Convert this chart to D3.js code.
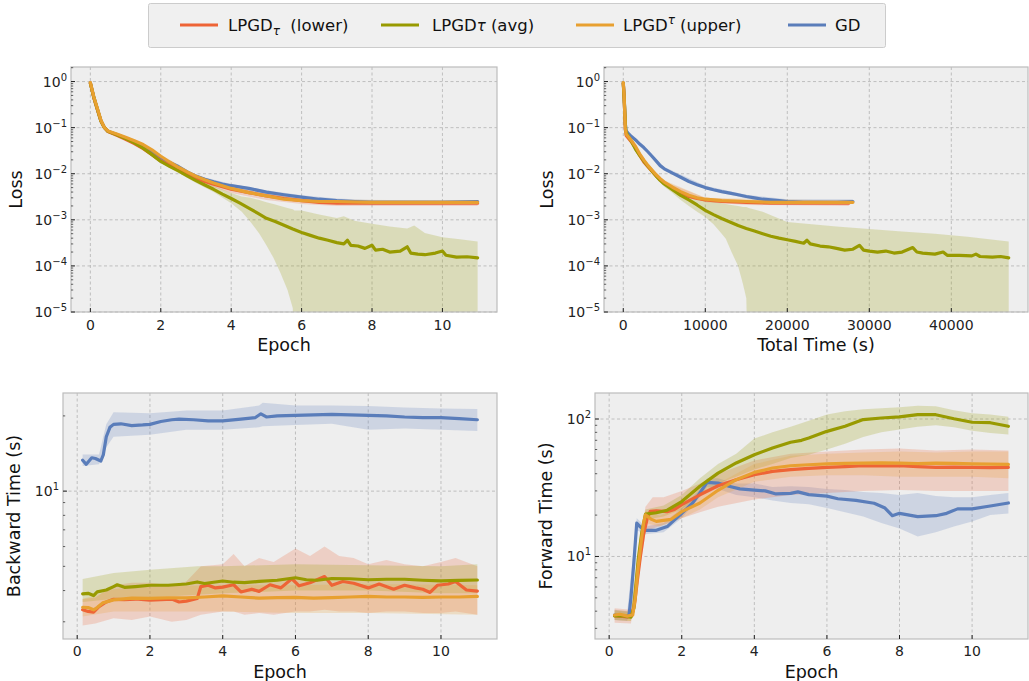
<!DOCTYPE html>
<html><head><meta charset="utf-8">
<script src="https://cdn.jsdelivr.net/npm/d3@7"></script>
<style>body{margin:0;background:#fff}svg{display:block;font-family:"DejaVu Sans",sans-serif}</style>
</head><body><script>
// ---------- DATA ----------
const xTicksEpoch = [0, 2, 4, 6, 8, 10];
const xTicksTime = [0, 10000, 20000, 30000, 40000];
const seriesNames = ["lower", "avg", "upper", "GD"];

// Loss vs epoch [epoch, loss] ; bands [epoch, low, high]
const lossEpRed = [[0,0.93],[0.1,0.44],[0.2,0.245],[0.3,0.14],[0.4,0.1],[0.5,0.082],[0.75,0.068],[1,0.056],[1.25,0.045],[1.5,0.035],[1.75,0.026],[2,0.019],[2.25,0.0155],[2.5,0.0125],[2.75,0.0098],[3,0.008],[3.25,0.0068],[3.5,0.0059],[3.75,0.0052],[4,0.0046],[4.5,0.0039],[5,0.0033],[5.5,0.0029],[6,0.0026],[6.5,0.0024],[7,0.0023],[8,0.0023],[9,0.0023],[10,0.0023],[11,0.0023]];
const lossEpRedBand = [[0,0.9,0.97],[0.1,0.42,0.46],[0.2,0.235,0.255],[0.3,0.134,0.146],[0.4,0.096,0.104],[0.5,0.079,0.085],[1,0.053,0.059],[1.5,0.033,0.037],[2,0.017,0.021],[2.5,0.011,0.014],[3,0.0068,0.0088],[4,0.0038,0.0052],[5,0.0027,0.0037],[6,0.0022,0.003],[7,0.002,0.0026],[11,0.002,0.0026]];
const lossEpGreen = [[0,0.93],[0.1,0.45],[0.2,0.25],[0.3,0.14],[0.4,0.1],[0.5,0.083],[0.75,0.07],[1,0.058],[1.25,0.047],[1.5,0.036],[1.75,0.026],[2,0.0185],[2.25,0.0145],[2.5,0.0115],[2.75,0.009],[3,0.0071],[3.25,0.0057],[3.5,0.0046],[3.75,0.0036],[4,0.0029],[4.25,0.0023],[4.5,0.0018],[4.75,0.0014],[5,0.00108],[5.25,0.00092],[5.5,0.00076],[5.75,0.00063],[6,0.00053],[6.25,0.00046],[6.5,0.0004],[6.75,0.00036],[7,0.00032],[7.2,0.0003],[7.3,0.00036],[7.4,0.00028],[7.6,0.00027],[7.8,0.00024],[8,0.00028],[8.1,0.00022],[8.3,0.00023],[8.5,0.0002],[8.8,0.00021],[9,0.00026],[9.1,0.00019],[9.3,0.00018],[9.5,0.000175],[9.8,0.00019],[10,0.00021],[10.1,0.00017],[10.4,0.000155],[10.7,0.000158],[11,0.00015]];
const lossEpGreenBand = [[0,0.9,0.97],[0.1,0.43,0.47],[0.2,0.24,0.26],[0.3,0.135,0.145],[0.4,0.097,0.103],[0.5,0.078,0.088],[1,0.054,0.063],[1.5,0.033,0.039],[2,0.017,0.02],[2.5,0.0105,0.0126],[3,0.0063,0.0081],[3.5,0.004,0.0055],[4,0.0023,0.0038],[4.3,0.0015,0.0032],[4.55,0.0009,0.003],[4.8,0.0005,0.0027],[5,0.00028,0.0024],[5.2,0.00015,0.0022],[5.4,0.00007,0.002],[5.6,0.00003,0.0018],[5.75,0.000012,0.0017],[5.8,1e-7,0.0016],[6,1e-7,0.0016],[6.5,1e-7,0.0013],[7,1e-7,0.0011],[7.2,1e-7,0.0012],[7.5,1e-7,0.00095],[8,1e-7,0.00082],[8.5,1e-7,0.00072],[9,1e-7,0.00065],[9.2,1e-7,0.00075],[9.5,1e-7,0.00052],[10,1e-7,0.00042],[10.5,1e-7,0.00038],[11,1e-7,0.00034]];
const lossEpOrange = [[0,0.95],[0.1,0.46],[0.2,0.26],[0.3,0.145],[0.4,0.1],[0.5,0.085],[0.75,0.073],[1,0.062],[1.25,0.052],[1.5,0.043],[1.75,0.033],[2,0.024],[2.25,0.018],[2.5,0.0138],[2.75,0.011],[3,0.0088],[3.25,0.0074],[3.5,0.0063],[3.75,0.0055],[4,0.0048],[4.5,0.0039],[5,0.0033],[5.5,0.0028],[6,0.0026],[6.5,0.0025],[7,0.0025],[8,0.0024],[9,0.0024],[10,0.0024],[11,0.0024]];
const lossEpOrangeBand = [[0,0.92,0.98],[0.1,0.44,0.48],[0.2,0.25,0.27],[0.3,0.14,0.15],[0.4,0.097,0.103],[0.5,0.082,0.088],[1,0.06,0.064],[1.5,0.041,0.045],[2,0.022,0.026],[3,0.0082,0.0094],[4,0.0044,0.0053],[6,0.0024,0.0028],[11,0.0022,0.0026]];
const lossEpBlue = [[0,0.93],[0.1,0.45],[0.2,0.25],[0.3,0.14],[0.4,0.1],[0.5,0.084],[0.75,0.071],[1,0.06],[1.25,0.05],[1.5,0.04],[1.75,0.03],[2,0.022],[2.25,0.0175],[2.5,0.0143],[2.75,0.011],[3,0.0089],[3.25,0.0076],[3.5,0.0067],[3.75,0.006],[4,0.0055],[4.5,0.0048],[5,0.004],[5.5,0.0035],[6,0.0031],[6.5,0.0028],[7,0.0026],[7.5,0.0025],[8,0.0024],[9,0.0024],[10,0.0024],[11,0.0025]];
const lossEpBlueBand = [[0,0.9,0.97],[0.1,0.43,0.47],[0.2,0.24,0.26],[0.3,0.135,0.145],[0.4,0.097,0.103],[0.5,0.081,0.087],[1,0.058,0.062],[1.5,0.038,0.042],[2,0.021,0.023],[3,0.0085,0.0093],[4,0.005,0.006],[5,0.0036,0.0044],[6,0.0027,0.0034],[7,0.0023,0.0029],[8,0.0021,0.0027],[11,0.0022,0.0027]];

// Loss vs total time [seconds, loss]
const lossTmRed = [[0,0.93],[100,0.48],[250,0.095],[350,0.068],[700,0.057],[1000,0.049],[1500,0.036],[2000,0.025],[2500,0.018],[3000,0.0142],[3500,0.0113],[4000,0.009],[4500,0.0074],[5000,0.0062],[6000,0.0048],[7000,0.0039],[8000,0.0032],[9000,0.0029],[10000,0.0027],[12000,0.0025],[15000,0.0024],[18000,0.0023],[22000,0.0023],[25000,0.0023],[27500,0.0023]];
const lossTmRedBand = [[0,0.9,0.97],[100,0.46,0.5],[250,0.091,0.099],[350,0.065,0.071],[1000,0.047,0.051],[2000,0.023,0.027],[3000,0.0132,0.0152],[5000,0.0056,0.0068],[10000,0.0024,0.003],[15000,0.0021,0.0027],[27500,0.002,0.0026]];
const lossTmGreen = [[0,0.93],[150,0.3],[300,0.085],[500,0.07],[1000,0.05],[1500,0.034],[2000,0.025],[2500,0.019],[3000,0.0148],[3500,0.0115],[4000,0.009],[4500,0.0072],[5000,0.006],[6000,0.0045],[7000,0.0034],[8000,0.0027],[9000,0.0021],[10000,0.0016],[11000,0.0013],[12000,0.00107],[13000,0.0009],[14000,0.00075],[15000,0.00065],[16000,0.00057],[17000,0.0005],[18000,0.00044],[19000,0.0004],[20000,0.00037],[21000,0.00034],[22000,0.00031],[22400,0.00036],[22800,0.0003],[24000,0.00027],[25000,0.00026],[26000,0.00024],[27000,0.00022],[28000,0.00023],[28800,0.00028],[29300,0.00022],[30000,0.00021],[31000,0.0002],[32000,0.00021],[33000,0.00019],[34000,0.0002],[35300,0.00025],[35800,0.0002],[36500,0.00019],[38000,0.00018],[39000,0.0002],[39500,0.00017],[41000,0.00017],[42500,0.000165],[43000,0.00018],[43500,0.00016],[45000,0.000155],[46000,0.00016],[47000,0.00015]];
const lossTmGreenBand = [[0,0.9,0.97],[150,0.29,0.31],[300,0.08,0.09],[1000,0.046,0.054],[2000,0.023,0.027],[3000,0.0135,0.0162],[4000,0.008,0.01],[5000,0.0052,0.0068],[6000,0.0038,0.0052],[7000,0.0027,0.0041],[8000,0.002,0.0035],[9000,0.0015,0.003],[10000,0.00115,0.0028],[11000,0.0008,0.0025],[12000,0.0005,0.0023],[12500,0.00039,0.0022],[13200,0.0002,0.0021],[14000,0.0001,0.002],[14600,0.00004,0.0019],[15000,0.00002,0.0019],[15300,1e-7,0.0018],[17000,1e-7,0.0015],[20000,1e-7,0.0009],[23000,1e-7,0.0008],[26000,1e-7,0.00072],[30000,1e-7,0.00063],[34000,1e-7,0.00056],[38000,1e-7,0.0005],[42000,1e-7,0.00043],[47000,1e-7,0.00034]];
const lossTmOrange = [[0,0.95],[100,0.5],[250,0.1],[350,0.072],[700,0.061],[1000,0.052],[1500,0.039],[2000,0.027],[2500,0.02],[3000,0.0152],[3500,0.012],[4000,0.0095],[4500,0.0078],[5000,0.0066],[6000,0.0051],[7000,0.0041],[8000,0.0034],[9000,0.003],[10000,0.0028],[12000,0.0026],[15000,0.0025],[18000,0.0024],[22000,0.0024],[25000,0.0024],[28000,0.0024]];
const lossTmOrangeBand = [[0,0.92,0.98],[100,0.48,0.52],[250,0.096,0.104],[350,0.069,0.075],[1000,0.05,0.054],[2000,0.025,0.029],[3000,0.0142,0.0162],[5000,0.006,0.0072],[10000,0.0026,0.003],[28000,0.0022,0.0026]];
const lossTmBlue = [[0,0.93],[100,0.5],[250,0.12],[350,0.085],[700,0.072],[1000,0.064],[1500,0.054],[2000,0.044],[2500,0.037],[3000,0.03],[3500,0.024],[4000,0.019],[4500,0.015],[5000,0.0128],[6000,0.0103],[7000,0.0084],[8000,0.0068],[9000,0.0058],[10000,0.005],[11000,0.0045],[12000,0.0041],[13000,0.0038],[14000,0.0035],[15000,0.0032],[16000,0.003],[17000,0.0028],[18000,0.0027],[19000,0.0026],[20000,0.0025],[22000,0.0024],[24000,0.0024],[26000,0.0024],[28000,0.0025]];
const lossTmBlueBand = [[0,0.9,0.97],[100,0.48,0.52],[250,0.115,0.125],[350,0.082,0.088],[1000,0.061,0.067],[2000,0.042,0.046],[3000,0.0285,0.0315],[5000,0.012,0.014],[10000,0.0046,0.0055],[15000,0.0029,0.0035],[20000,0.0022,0.0028],[28000,0.0022,0.0028]];

// Backward time vs epoch [epoch, seconds]
const bwdRed = [[0.15,3.35],[0.3,3.3],[0.45,3.28],[0.6,3.45],[0.8,3.6],[1.0,3.69],[1.3,3.68],[1.6,3.7],[2.0,3.66],[2.3,3.68],[2.6,3.7],[2.8,3.6],[3.0,3.63],[3.3,3.72],[3.4,4.15],[3.6,4.2],[3.8,4.1],[4.0,4.13],[4.3,4.22],[4.5,3.95],[4.8,4.05],[5.0,3.97],[5.3,4.22],[5.6,4.1],[5.9,4.46],[6.1,4.18],[6.4,4.3],[6.8,4.55],[7.0,4.2],[7.3,4.35],[7.6,4.28],[8.0,4.1],[8.3,4.25],[8.7,4.05],[9.0,4.2],[9.3,4.1],[9.5,4.05],[9.7,3.93],[9.9,4.2],[10.2,4.25],[10.4,4.35],[10.7,4.02],[11.0,3.98]];
const bwdRedBand = [[0.15,2.9,3.7],[0.5,2.95,3.75],[1,3.1,4.2],[1.5,3.05,4.3],[2,3.15,4.3],[2.6,3.0,4.2],[3,3.05,4.35],[3.4,3.2,5.0],[4,3.3,5.1],[4.3,3.3,5.6],[4.6,3.2,5.0],[5,3.25,5.4],[5.4,3.2,5.2],[6,3.3,5.9],[6.4,3.3,5.5],[6.8,3.35,6.0],[7.2,3.3,5.5],[7.6,3.3,5.4],[8,3.25,5.1],[8.5,3.3,5.3],[9,3.3,5.1],[9.5,3.25,5.0],[10,3.25,5.2],[10.4,3.3,5.4],[11,3.2,5.0]];
const bwdGreen = [[0.15,3.88],[0.3,3.9],[0.45,3.82],[0.55,3.95],[0.8,4.02],[1.0,4.15],[1.1,4.22],[1.3,4.12],[1.6,4.15],[2.0,4.2],[2.5,4.2],[3.0,4.25],[3.3,4.33],[3.5,4.27],[4.0,4.37],[4.3,4.32],[4.6,4.3],[5.0,4.35],[5.5,4.4],[6.0,4.5],[6.3,4.42],[6.6,4.4],[7.0,4.47],[7.5,4.46],[8.0,4.42],[8.5,4.44],[9.0,4.44],[9.5,4.4],[10.0,4.37],[10.5,4.39],[11.0,4.41]];
const bwdGreenBand = [[0.15,3.6,4.45],[1,3.7,4.7],[2,3.75,4.85],[3.3,3.85,5.0],[4,3.9,5.0],[6,4.0,5.1],[8,4.0,5.05],[10,3.9,5.0],[11,3.9,5.1]];
const bwdOrange = [[0.15,3.43],[0.3,3.42],[0.45,3.35],[0.55,3.42],[0.7,3.57],[0.85,3.62],[1.0,3.67],[1.5,3.73],[2.0,3.72],[2.5,3.74],[3.0,3.74],[3.5,3.77],[4.0,3.81],[4.5,3.77],[5.0,3.73],[5.5,3.75],[6.0,3.76],[6.5,3.73],[7.0,3.75],[7.5,3.77],[8.0,3.79],[8.5,3.77],[9.0,3.77],[9.5,3.76],[10.0,3.77],[10.5,3.77],[11.0,3.79]];
const bwdOrangeBand = [[0.15,3.15,3.7],[1,3.3,4.05],[2,3.3,4.15],[4,3.3,4.2],[6,3.25,4.2],[8,3.25,4.25],[11,3.2,4.2]];
const bwdBlue = [[0.15,13.3],[0.25,12.8],[0.4,13.6],[0.5,13.5],[0.65,13.2],[0.72,14],[0.8,16.5],[0.9,18.0],[1.0,18.5],[1.2,18.6],[1.5,18.3],[1.8,18.4],[2.0,18.5],[2.3,19.0],[2.6,19.3],[2.8,19.4],[3.2,19.3],[3.6,19.1],[4.0,19.1],[4.5,19.4],[4.9,19.7],[5.05,20.4],[5.2,19.8],[5.5,20.0],[6.0,20.1],[6.5,20.2],[7.0,20.3],[7.5,20.2],[8.0,20.1],[8.5,20.0],[9.0,19.8],[9.5,19.7],[10.0,19.7],[10.5,19.5],[11.0,19.3]];
const bwdBlueBand = [[0.15,12.6,14.0],[0.6,12.8,14.0],[0.8,15.0,18.5],[1.0,16.5,20.7],[2,16.8,20.5],[3,17.6,21.0],[4,17.6,21.0],[5,18.0,22.0],[5.1,18.2,22.6],[6,18.4,22.0],[7,18.6,22.0],[8,17.6,21.9],[9,17.8,21.6],[10,17.6,21.4],[11,17.4,21.3]];

// Forward time vs epoch [epoch, seconds]
const fwdRed = [[0.15,3.7],[0.3,3.68],[0.5,3.63],[0.62,3.7],[0.7,4.5],[0.78,6.8],[0.86,10],[0.95,14.5],[1.05,19],[1.13,21.3],[1.3,21.5],[1.6,21.2],[1.8,22.0],[2.0,23.8],[2.5,28.1],[3.0,32.7],[3.5,36.2],[4.0,39.3],[4.5,41.6],[5.0,42.8],[5.5,43.8],[6.0,44.5],[6.5,45.0],[7.0,45.7],[7.5,45.6],[8.0,45.7],[8.5,45.0],[9.0,44.5],[9.5,44.7],[10.0,44.5],[10.5,44.3],[11.0,44.5]];
const fwdRedBand = [[0.15,3.3,4.2],[0.6,3.25,4.1],[0.75,5.5,8.5],[1.0,15,23],[1.2,16,27],[1.5,17,27],[2,19,30],[2.5,21,34],[3,23,40],[4,26,50],[5,28,56],[6,29,58],[7,30,60],[8,30.5,61],[9,30,59],[10,30,60],[11,30,59]];
const fwdGreen = [[0.15,3.7],[0.4,3.7],[0.6,3.62],[0.68,4.2],[0.8,9.46],[0.9,15],[1.0,20.3],[1.3,20.8],[1.6,21.7],[2.0,25.1],[2.5,32.4],[3.0,40.4],[3.5,47.9],[4.0,55.0],[4.5,61.6],[5.0,67.7],[5.3,70],[5.5,72.8],[6.0,81.3],[6.5,88.5],[7.0,99],[7.5,101.7],[8.0,103.5],[8.5,107.7],[9.0,107.5],[9.5,100.5],[10.0,94.7],[10.5,94],[11.0,88.5]];
const fwdGreenBand = [[0.15,3.45,4.05],[0.6,3.4,3.95],[1,18.5,22],[1.5,19.5,23.5],[2,22,28],[2.5,28,37],[3,34,47],[3.5,38,56],[4,43,72],[4.5,47,80],[5,52,88],[5.5,55,97],[6,60,108],[6.5,66,114],[7,74,118],[7.5,80,120],[8,84,122],[8.5,88,125],[9,90,124],[9.5,87,116],[10,82,110],[10.5,79,108],[11,77,104]];
const fwdOrange = [[0.15,3.75],[0.3,3.8],[0.5,3.68],[0.65,3.75],[0.72,5.0],[0.8,8.46],[0.9,14],[0.95,17.5],[1.0,20.1],[1.15,18.7],[1.3,18.0],[1.7,18.6],[2.0,21.2],[2.5,24.5],[3.0,30.3],[3.5,36.2],[4.0,40.9],[4.5,44.0],[5.0,45.7],[5.5,46.5],[6.0,47.2],[6.5,47.5],[7.0,47.7],[7.5,48.0],[8.0,47.7],[8.5,47.3],[9.0,47.7],[9.5,47.5],[10.0,47.2],[10.5,47.0],[11.0,46.7]];
const fwdOrangeBand = [[0.15,3.45,4.1],[0.6,3.4,4.0],[0.8,7.5,9.5],[1.0,17.5,21.5],[1.4,16.5,19.8],[2,19,23.5],[2.5,22,27.5],[3,27,34],[4,35,47],[5,38,54],[6,39,56],[7,39,57],[8,38,58],[9,38,57],[10,38,58],[11,37,58]];
const fwdBlue = [[0.15,3.75],[0.3,3.7],[0.5,3.65],[0.55,3.8],[0.6,5],[0.68,9],[0.76,17.5],[0.85,16.5],[1.0,15.5],[1.3,15.5],[1.6,16.5],[2.0,20.6],[2.3,24.5],[2.5,29],[2.7,34.6],[3.0,34.2],[3.3,32.4],[3.6,31.0],[4.0,30.4],[4.3,30.0],[4.6,28.5],[5.0,28.8],[5.2,29.5],[5.5,28.2],[6.0,27.5],[6.3,26.3],[6.8,25.6],[7.3,24.4],[7.6,22.5],[7.8,19.8],[8.0,20.6],[8.5,19.5],[9.0,19.8],[9.3,20.6],[9.6,22.2],[10.0,22.2],[10.5,23.3],[11.0,24.5]];
const fwdBlueBand = [[0.15,3.45,4.1],[0.5,3.4,4.0],[0.76,15.5,19],[1.0,14.5,16.5],[1.5,15,17.5],[2,19,22.5],[2.5,27,31],[2.7,32,37],[3,31,37],[3.5,28,34],[4,27,34],[4.5,25.5,32],[5,24.5,32.4],[5.5,24,32],[6,22.5,31],[6.5,21,30.5],[7,19.5,29.5],[7.5,17.5,29],[8,16,28],[8.5,14,29],[9,15,27.5],[9.5,16.5,27],[10,18,27],[10.5,20,28],[11,20.5,29]];

// ---------- STYLE ----------
const C = {red: "#EE6436", green: "#989A00", orange: "#E8A030", blue: "#5A7DBA"};
const W = 1029, H = 681;
const svg = d3.select("body").append("svg").attr("width", W).attr("height", H);
svg.append("rect").attr("width", W).attr("height", H).attr("fill", "#fff");
const defs = svg.append("defs");

function logTicks(dom) {
  const out = [];
  const lo = Math.floor(Math.log10(dom[0])), hi = Math.ceil(Math.log10(dom[1]));
  for (let d = lo; d <= hi; d++) for (let m = 1; m <= 9; m++) {
    const v = m * Math.pow(10, d);
    if (v >= dom[0] * 0.9999 && v <= dom[1] * 1.0001) out.push({v, major: m === 1, e: d});
  }
  return out;
}

function panel(cfg) {
  const {id, x0, x1, y0, y1} = cfg;
  const x = d3.scaleLinear().domain(cfg.xDomain).range([x0, x1]);
  const y = d3.scaleLog().domain(cfg.yDomain).range([y1, y0]);
  defs.append("clipPath").attr("id", "clip" + id).append("rect")
    .attr("x", x0).attr("y", y0).attr("width", x1 - x0).attr("height", y1 - y0);
  const g = svg.append("g");
  g.append("rect").attr("x", x0).attr("y", y0).attr("width", x1 - x0).attr("height", y1 - y0).attr("fill", "#eeeeee");
  const yt = logTicks(cfg.yDomain);
  const grid = g.append("g").attr("stroke", "#b2b2b2").attr("stroke-width", 0.8).attr("stroke-dasharray", "3,2.5");
  cfg.xTicks.forEach(t => grid.append("line").attr("x1", x(t)).attr("x2", x(t)).attr("y1", y0).attr("y2", y1));
  yt.filter(t => t.major).forEach(t => grid.append("line").attr("x1", x0).attr("x2", x1).attr("y1", y(t.v)).attr("y2", y(t.v)));
  const pg = g.append("g").attr("clip-path", `url(#clip${id})`);
  const area = d3.area().x(d => x(d[0])).y0(d => y(d[1])).y1(d => y(d[2]));
  const line = d3.line().x(d => x(d[0])).y(d => y(d[1]));
  cfg.series.forEach(s => {
    pg.append("path").attr("d", area(s.band)).attr("fill", s.color).attr("fill-opacity", 0.22);
  });
  cfg.series.forEach(s => {
    pg.append("path").attr("d", line(s.line)).attr("fill", "none").attr("stroke", s.color)
      .attr("stroke-width", 3.2).attr("stroke-linejoin", "round").attr("stroke-linecap", "round");
  });
  g.append("rect").attr("x", x0).attr("y", y0).attr("width", x1 - x0).attr("height", y1 - y0)
    .attr("fill", "none").attr("stroke", "#bcbcbc").attr("stroke-width", 1.2);
  const tk = g.append("g").attr("stroke", "#222");
  cfg.xTicks.forEach(t => tk.append("line").attr("x1", x(t)).attr("x2", x(t)).attr("y1", y1).attr("y2", y1 - 4).attr("stroke-width", 1));
  yt.forEach(t => tk.append("line").attr("x1", x0).attr("x2", x0 + (t.major ? 4 : 2.2)).attr("y1", y(t.v)).attr("y2", y(t.v)).attr("stroke-width", t.major ? 1 : 0.7));
  cfg.xTicks.forEach(t => g.append("text").attr("x", x(t)).attr("y", y1 + cfg.xtlOff).attr("text-anchor", "middle")
    .attr("font-size", 14).attr("fill", "#222").text(String(t)));
  yt.filter(t => t.major).forEach(t => {
    const tx = g.append("text").attr("x", x0 - 4).attr("y", y(t.v) + 5).attr("text-anchor", "end").attr("font-size", 14).attr("fill", "#222");
    tx.append("tspan").text("10");
    tx.append("tspan").attr("dy", -6).attr("font-size", 10).text(String(t.e).replace("-", "\u2212"));
  });
  g.append("text").attr("x", (x0 + x1) / 2).attr("y", y1 + 39).attr("text-anchor", "middle").attr("font-size", 17.5).attr("fill", "#111").text(cfg.xLabel);
  g.append("text").attr("transform", `translate(${cfg.ylx},${(y0 + y1) / 2}) rotate(-90)`).attr("text-anchor", "middle")
    .attr("font-size", 17.5).attr("fill", "#111").text(cfg.yLabel);
}

panel({id: 1, x0: 71, x1: 497, y0: 67, y1: 312, xDomain: [-0.55, 11.55], yDomain: [1e-5, 2.07],
  xTicks: xTicksEpoch, xtlOff: 18, xLabel: "Epoch", yLabel: "Loss", ylx: 22,
  series: [{line: lossEpBlue, band: lossEpBlueBand, color: C.blue}, {line: lossEpRed, band: lossEpRedBand, color: C.red},
           {line: lossEpGreen, band: lossEpGreenBand, color: C.green}, {line: lossEpOrange, band: lossEpOrangeBand, color: C.orange}]});
panel({id: 2, x0: 604, x1: 1028, y0: 67, y1: 312, xDomain: [-2350, 49350], yDomain: [1e-5, 2.07],
  xTicks: xTicksTime, xtlOff: 18, xLabel: "Total Time (s)", yLabel: "Loss", ylx: 553,
  series: [{line: lossTmBlue, band: lossTmBlueBand, color: C.blue}, {line: lossTmRed, band: lossTmRedBand, color: C.red},
           {line: lossTmGreen, band: lossTmGreenBand, color: C.green}, {line: lossTmOrange, band: lossTmOrangeBand, color: C.orange}]});
panel({id: 3, x0: 63, x1: 497, y0: 393, y1: 639, xDomain: [-0.39, 11.54], yDomain: [2.56, 24.7],
  xTicks: xTicksEpoch, xtlOff: 17, xLabel: "Epoch", yLabel: "Backward Time (s)", ylx: 20,
  series: [{line: bwdBlue, band: bwdBlueBand, color: C.blue}, {line: bwdRed, band: bwdRedBand, color: C.red},
           {line: bwdGreen, band: bwdGreenBand, color: C.green}, {line: bwdOrange, band: bwdOrangeBand, color: C.orange}]});
panel({id: 4, x0: 595, x1: 1028, y0: 393, y1: 639, xDomain: [-0.39, 11.54], yDomain: [2.51, 154.6],
  xTicks: xTicksEpoch, xtlOff: 17, xLabel: "Epoch", yLabel: "Forward Time (s)", ylx: 552,
  series: [{line: fwdBlue, band: fwdBlueBand, color: C.blue}, {line: fwdRed, band: fwdRedBand, color: C.red},
           {line: fwdGreen, band: fwdGreenBand, color: C.green}, {line: fwdOrange, band: fwdOrangeBand, color: C.orange}]});

// ---------- LEGEND ----------
const lg = svg.append("g");
lg.append("rect").attr("x", 148.5).attr("y", 3.5).attr("width", 737).attr("height", 44).attr("rx", 2)
  .attr("fill", "#f0f0f0").attr("stroke", "#cccccc").attr("stroke-width", 1);
const legendItems = [
  {color: C.red, lx: 180, tx: 228, kind: "sub"},
  {color: C.green, lx: 381, tx: 432, kind: "inline"},
  {color: C.orange, lx: 576, tx: 623, kind: "sup"},
  {color: C.blue, lx: 788, tx: 835, kind: "none"}
];
legendItems.forEach(it => {
  lg.append("line").attr("x1", it.lx).attr("x2", it.lx + 38).attr("y1", 25).attr("y2", 25).attr("stroke", it.color).attr("stroke-width", 3);
  const t = lg.append("text").attr("x", it.tx).attr("y", 31).attr("font-size", 16.5).attr("fill", "#111");
  if (it.kind === "none") { t.text("GD"); return; }
  t.append("tspan").text("LPGD");
  if (it.kind === "sub") {
    t.append("tspan").attr("dy", 4).attr("font-size", 12).attr("font-style", "italic").text("\u03C4");
    t.append("tspan").attr("dy", -4).text("\u00A0 (lower)");
  } else if (it.kind === "inline") {
    t.append("tspan").attr("font-size", 15).attr("font-style", "italic").text("\u03C4");
    t.append("tspan").text("\u00A0(avg)");
  } else {
    t.append("tspan").attr("dy", -7).attr("font-size", 12).attr("font-style", "italic").text("\u03C4");
    t.append("tspan").attr("dy", 7).text("\u00A0(upper)");
  }
});
</script></body></html>
